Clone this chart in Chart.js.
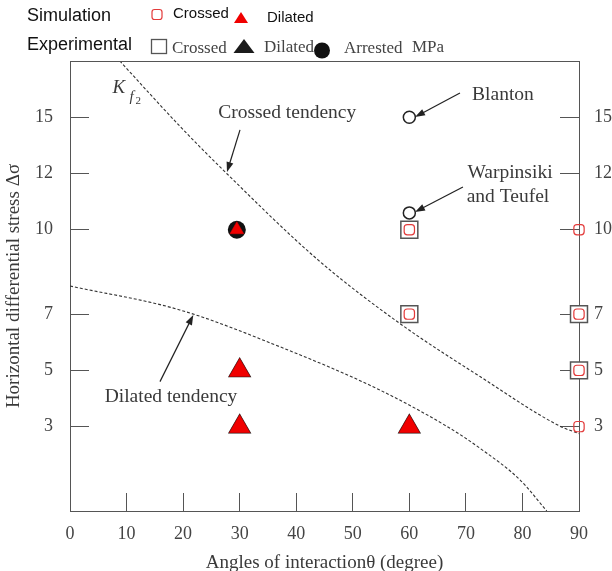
<!DOCTYPE html>
<html>
<head>
<meta charset="utf-8">
<script src="https://cdn.jsdelivr.net/npm/chart.js@4.4.0/dist/chart.umd.min.js"></script>
<style>
  html, body { margin: 0; padding: 0; background: #fff; }
</style>
</head>
<body>
<canvas id="stress-chart" width="612" height="571"></canvas>
<script>
// tick labels on the (uneven) stress axis
const stressTicks = [3, 5, 7, 10, 12, 15];

// simulation
const simCrossedAngle  = [60, 60, 90, 90, 90, 90];
const simCrossedStress = [10, 7, 10, 7, 5, 3];
const simDilatedAngle  = [29.5, 30, 30, 60];
const simDilatedStress = [10, 5, 3, 3];

// experimental
const expCrossedAngle   = [60, 60, 90, 90];
const expCrossedStress  = [10, 7, 7, 5];
const expDilatedAngle   = [30, 30, 60];
const expDilatedStress  = [5, 3, 3];
const expArrestedAngle  = [29.5];
const expArrestedStress = [10];

// field cases: Blanton, Warpinsiki and Teufel
const fieldAngle  = [60, 60];
const fieldStress = [15, 10.6];

// tendency curves
const crossedTendAngle  = [8.8, 19.5, 27.7, 43.9, 58.3, 72.5, 86.6, 90];
const crossedTendStress = [18, 14.5, 12.0, 8.92, 6.67, 4.78, 3.02, 2.75];
const dilatedTendAngle  = [0, 19.4, 37.1, 54.8, 67.2, 72.5, 79.6, 84.3];
const dilatedTendStress = [8.0, 7.15, 5.84, 4.30, 2.94, 2.23, 1.10, 0];

// the axis is linear up to 12, then squeezed (15 sits where 14 would be)
const pos = v => v <= 12 ? v : 12 + (v - 12) * 2 / 3;
const pts = (xs, ys) => xs.map((x, i) => ({ x: x, y: pos(ys[i]) }));

const serif = 'Liberation Serif';
const sans = 'Liberation Sans';
const axisGrey = '#555';
const textCol = '#3a3a3a';

function arrow(ctx, x1, y1, x2, y2) {
  const a = Math.atan2(y2 - y1, x2 - x1);
  const hl = 10, hw = 3.5;
  ctx.save();
  ctx.strokeStyle = '#222';
  ctx.fillStyle = '#222';
  ctx.lineWidth = 1.2;
  ctx.beginPath();
  ctx.moveTo(x1, y1);
  ctx.lineTo(x2 - Math.cos(a) * hl * 0.8, y2 - Math.sin(a) * hl * 0.8);
  ctx.stroke();
  ctx.beginPath();
  ctx.moveTo(x2, y2);
  ctx.lineTo(x2 - Math.cos(a) * hl - Math.sin(a) * hw, y2 - Math.sin(a) * hl + Math.cos(a) * hw);
  ctx.lineTo(x2 - Math.cos(a) * hl + Math.sin(a) * hw, y2 - Math.sin(a) * hl - Math.cos(a) * hw);
  ctx.closePath();
  ctx.fill();
  ctx.restore();
}

function tri(ctx, cx, top, w, h, fill) {
  ctx.fillStyle = fill;
  ctx.beginPath();
  ctx.moveTo(cx, top);
  ctx.lineTo(cx + w / 2, top + h);
  ctx.lineTo(cx - w / 2, top + h);
  ctx.closePath();
  ctx.fill();
}

const decor = {
  id: 'decor',
  afterDraw(chart) {
    const ctx = chart.ctx;
    const area = chart.chartArea;
    const X = chart.scales.x, Y = chart.scales.y;
    const px = v => X.getPixelForValue(v), py = v => Y.getPixelForValue(v);
    ctx.save();

    // top frame line
    ctx.strokeStyle = axisGrey;
    ctx.lineWidth = 1;
    ctx.beginPath();
    ctx.moveTo(area.left, Math.round(area.top) + 0.5);
    ctx.lineTo(area.right, Math.round(area.top) + 0.5);
    ctx.stroke();

    // legend
    ctx.fillStyle = '#111';
    ctx.font = '18px "' + sans + '"';
    ctx.textBaseline = 'alphabetic';
    ctx.textAlign = 'left';
    ctx.fillText('Simulation', 27, 21);
    ctx.fillText('Experimental', 27, 50);
    ctx.font = '15px "' + sans + '"';
    ctx.fillText('Crossed', 173, 18);
    ctx.fillText('Dilated', 267, 22);

    ctx.strokeStyle = '#e33a3a';
    ctx.lineWidth = 1.2;
    ctx.beginPath();
    ctx.roundRect(152, 9.5, 10, 10, 2.5);
    ctx.stroke();
    tri(ctx, 241, 12, 14, 11, '#f00000');

    ctx.strokeStyle = axisGrey;
    ctx.lineWidth = 1.3;
    ctx.strokeRect(151.5, 39.5, 15, 14);
    tri(ctx, 244, 39, 21, 14, '#1b1b1b');
    ctx.fillStyle = '#111';
    ctx.beginPath();
    ctx.arc(322, 50.5, 8, 0, Math.PI * 2);
    ctx.fill();

    ctx.fillStyle = '#444';
    ctx.font = '17px "' + serif + '"';
    ctx.fillText('Crossed', 172, 53);
    ctx.fillText('Dilated', 264, 52);
    ctx.fillText('Arrested', 344, 53);
    ctx.fillText('MPa', 412, 52);

    // annotations
    ctx.fillStyle = textCol;
    ctx.font = 'italic 19px "' + serif + '"';
    ctx.fillText('K', px(7.5), py(14.86));
    ctx.font = 'italic 15px "' + serif + '"';
    ctx.fillText('f', px(7.5) + 17, py(14.86) + 8);
    ctx.font = '11px "' + serif + '"';
    ctx.fillText('2', px(7.5) + 23, py(14.86) + 11);

    ctx.font = '19.5px "' + serif + '"';
    ctx.textAlign = 'center';
    ctx.textBaseline = 'middle';
    ctx.fillText('Crossed tendency', px(38.4), py(14.15));
    ctx.fillText('Blanton', px(76.55), py(14.79));
    ctx.fillText('Warpinsiki', px(77.8), py(12.02));
    ctx.fillText('and Teufel', px(77.44), py(11.16));
    ctx.fillText('Dilated tendency', px(17.86), py(4.05));

    arrow(ctx, px(30.06), py(13.55), px(27.76), py(12.05));
    arrow(ctx, px(68.95), py(14.86), px(61.0), py(14.01));
    arrow(ctx, px(69.48), py(11.52), px(61.0), py(10.63));
    arrow(ctx, px(15.91), py(4.60), px(21.8), py(6.97));

    ctx.restore();
  }
};

const stressAxis = (side, pad, width) => ({
  type: 'linear',
  position: side,
  min: 0,
  max: 16,
  afterBuildTicks: axis => { axis.ticks = stressTicks.map(v => ({ value: pos(v) })); },
  afterFit: axis => { axis.width = width; },
  border: { display: true, color: axisGrey, width: 1 },
  grid: { drawOnChartArea: false, drawTicks: true, tickLength: -19, color: axisGrey },
  ticks: {
    padding: pad,
    color: '#444',
    font: { family: serif, size: 18 },
    callback: value => {
      const t = stressTicks.find(v => Math.abs(pos(v) - value) < 1e-6);
      return t === undefined ? '' : String(t);
    }
  }
});

const yLeft = stressAxis('left', 36, 70);
yLeft.title = {
  display: true,
  text: 'Horizontal differential stress \u0394\u03c3',
  color: textCol,
  font: { family: serif, size: 19, lineHeight: 1 },
  padding: { top: 5, bottom: 0 }
};
const yRight = stressAxis('right', 34, 33);

new Chart(document.getElementById('stress-chart'), {
  type: 'scatter',
  data: {
    datasets: [
      {
        label: 'Simulation dilated',
        data: pts(simDilatedAngle, simDilatedStress),
        pointStyle: 'triangle',
        pointRadius: c => c.dataIndex === 0 ? 8 : 12,
        backgroundColor: '#f00000',
        borderColor: '#e00000',
        borderWidth: 0.5,
        clip: false
      },
      {
        label: 'Experimental dilated',
        data: pts(expDilatedAngle, expDilatedStress),
        pointStyle: 'triangle',
        pointRadius: 13.5,
        backgroundColor: '#1b1b1b',
        borderColor: '#1b1b1b',
        borderWidth: 0,
        clip: false
      },
      {
        label: 'Experimental arrested',
        data: pts(expArrestedAngle, expArrestedStress),
        pointStyle: 'circle',
        pointRadius: 9,
        backgroundColor: '#111',
        borderColor: '#111',
        borderWidth: 0,
        clip: false
      },
      {
        label: 'Field cases',
        data: pts(fieldAngle, fieldStress),
        pointStyle: 'circle',
        pointRadius: 6,
        backgroundColor: '#fff',
        borderColor: '#222',
        borderWidth: 1.5,
        clip: false
      },
      {
        label: 'Simulation crossed',
        data: pts(simCrossedAngle, simCrossedStress),
        pointStyle: 'rectRounded',
        pointRadius: 6,
        backgroundColor: 'rgba(0,0,0,0)',
        borderColor: '#e33a3a',
        borderWidth: 1.2,
        clip: false
      },
      {
        label: 'Experimental crossed',
        data: pts(expCrossedAngle, expCrossedStress),
        pointStyle: 'rect',
        pointRadius: 12,
        backgroundColor: '#fff',
        borderColor: axisGrey,
        borderWidth: 1.5,
        clip: false
      },
      {
        label: 'Crossed tendency',
        data: pts(crossedTendAngle, crossedTendStress),
        showLine: true,
        pointRadius: 0,
        borderColor: '#333',
        borderWidth: 1.1,
        borderDash: [3, 2],
        cubicInterpolationMode: 'monotone'
      },
      {
        label: 'Dilated tendency',
        data: pts(dilatedTendAngle, dilatedTendStress),
        showLine: true,
        pointRadius: 0,
        borderColor: '#333',
        borderWidth: 1.1,
        borderDash: [3, 2],
        cubicInterpolationMode: 'monotone'
      }
    ]
  },
  options: {
    responsive: false,
    animation: false,
    events: [],
    layout: { autoPadding: false, padding: { top: 61, left: 0, right: 0, bottom: 0 } },
    plugins: { legend: { display: false }, tooltip: { enabled: false } },
    scales: {
      x: {
        type: 'linear',
        position: 'bottom',
        min: 0,
        max: 90,
        afterFit: axis => {
          axis.height = 60;
          // tick padding is only there to push labels past the inward ticks
          axis.paddingLeft = 0;
          axis.paddingRight = 0;
        },
        border: { display: true, color: axisGrey, width: 1 },
        grid: { drawOnChartArea: false, drawTicks: true, tickLength: -18, color: axisGrey },
        ticks: {
          stepSize: 10,
          autoSkip: false,
          maxRotation: 0,
          padding: 30,
          color: '#444',
          font: { family: serif, size: 18 }
        },
        title: {
          display: true,
          text: 'Angles of interaction\u03b8 (degree)',
          color: textCol,
          font: { family: serif, size: 19, lineHeight: 1 },
          padding: { top: 0, bottom: -2 }
        }
      },
      y: yLeft,
      y2: yRight
    }
  },
  plugins: [decor]
});
</script>
</body>
</html>
